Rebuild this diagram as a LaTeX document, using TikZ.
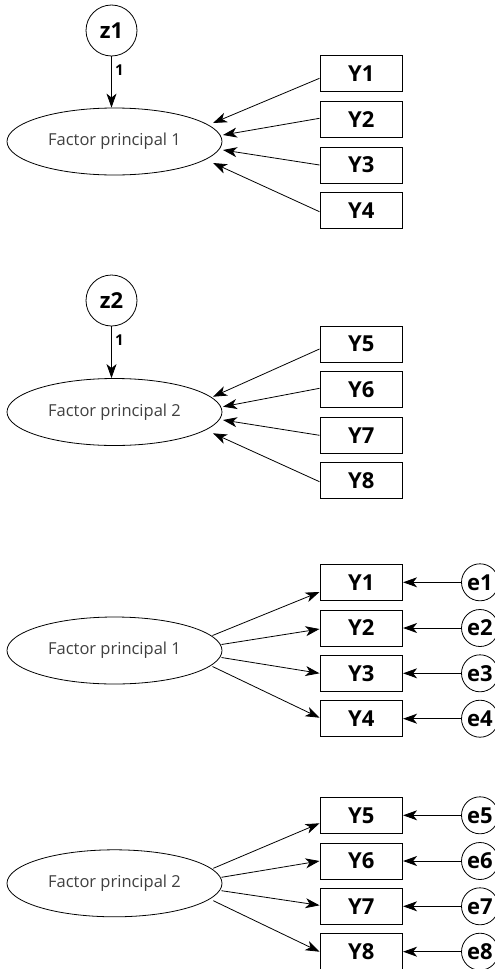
\documentclass[tikz,border=0pt]{standalone}
\usepackage{fontspec}
\setmainfont{Open Sans}
\usetikzlibrary{arrows.meta,calc,shapes.geometric}
\begin{document}
\begin{tikzpicture}[x=1pt,y=-1pt,
  box/.style={draw, line width=0.9pt, minimum width=82.7pt, minimum height=36pt, inner sep=0pt, font=\bfseries\fontsize{22}{22}\selectfont},
  lat/.style={draw, ellipse, line width=0.8pt, minimum width=215pt, minimum height=67pt, inner sep=0pt, font=\fontsize{16.5}{16.5}\selectfont, text=black!75},
  dist/.style={draw, circle, minimum size=51pt, inner sep=0pt, line width=0.8pt, font=\bfseries\fontsize{22}{22}\selectfont},
  err/.style={draw, circle, minimum size=37pt, inner sep=0pt, line width=0.8pt, font=\bfseries\fontsize{22}{22}\selectfont},
  arr/.style={-{Stealth[length=14pt,width=10pt,inset=4pt]}, line width=0.8pt},
  lbl/.style={font=\bfseries\fontsize{15}{15}\selectfont}
]
\useasboundingbox (0,0) rectangle (495,969);

% ---------- Group 1 ----------
\node[dist] (z1) at (111.5,30.5) {z1};
\node[lat] (F1) at (114.5,141.5) {Factor principal 1};
\node[box] (A1) at (361.3,73.7) {Y1};
\node[box] (A2) at (361.3,119.7) {Y2};
\node[box] (A3) at (361.3,165) {Y3};
\node[box] (A4) at (361.3,210.3) {Y4};
\draw[arr] (z1.south) -- (z1.south |- F1.north) node[lbl, pos=0.27, right=0pt] {1};
\draw[arr] ($(A1.west)+(0,4.6)$) -- ($(F1.center)+(98.5,-18.5)$);
\draw[arr] ($(A2.west)+(0,-1.4)$) -- ($(F1.center)+(108.5,-6.5)$);
\draw[arr] (A3.west) -- ($(F1.center)+(108.5,8.5)$);
\draw[arr] ($(A4.west)+(0,1.4)$) -- ($(F1.center)+(98.5,21.5)$);

% ---------- Group 2 ----------
\node[dist] (z2) at (111.5,300.5) {z2};
\node[lat] (F2) at (114.5,412) {Factor principal 2};
\node[box] (B5) at (361.3,344.2) {Y5};
\node[box] (B6) at (361.3,389.7) {Y6};
\node[box] (B7) at (361.3,435.3) {Y7};
\node[box] (B8) at (361.3,480.8) {Y8};
\draw[arr] (z2.south) -- (z2.south |- F2.north) node[lbl, pos=0.27, right=0pt] {1};
\draw[arr] ($(B5.west)+(0,4.8)$) -- ($(F2.center)+(98.5,-15.3)$);
\draw[arr] ($(B6.west)+(0,-1.4)$) -- ($(F2.center)+(108.5,-5.3)$);
\draw[arr] (B7.west) -- ($(F2.center)+(108.5,8)$);
\draw[arr] ($(B8.west)+(0,0.9)$) -- ($(F2.center)+(98.5,21.3)$);

% ---------- Group 3 ----------
\node[lat] (F3) at (114.5,650.5) {Factor principal 1};
\node[box] (C1) at (361.3,582.3) {Y1};
\node[box] (C2) at (361.3,628) {Y2};
\node[box] (C3) at (361.3,673.3) {Y3};
\node[box] (C4) at (361.3,718.7) {Y4};
\node[err] (e1) at (480,582.3) {e1};
\node[err] (e2) at (480,628) {e2};
\node[err] (e3) at (480,673.3) {e3};
\node[err] (e4) at (480,718.7) {e4};
\draw[arr] ($(F3.center)+(98,-15)$) -- ($(C1.west)+(0,9.7)$);
\draw[arr] ($(F3.center)+(107,-6)$) -- ($(C2.west)+(0,1)$);
\draw[arr] ($(F3.center)+(107,7)$) -- (C3.west);
\draw[arr] ($(F3.center)+(98,16)$) -- ($(C4.west)+(0,-1)$);
\foreach \i/\b in {1/C1,2/C2,3/C3,4/C4} \draw[arr] (e\i.west) -- (\b.east);

% ---------- Group 4 ----------
\node[lat] (F4) at (114.5,883.3) {Factor principal 2};
\node[box] (D5) at (361.3,815.3) {Y5};
\node[box] (D6) at (361.3,861) {Y6};
\node[box] (D7) at (361.3,906.3) {Y7};
\node[box] (D8) at (361.3,951.7) {Y8};
\node[err] (e5) at (480,815.3) {e5};
\node[err] (e6) at (480,861) {e6};
\node[err] (e7) at (480,906.3) {e7};
\node[err] (e8) at (480,951.7) {e8};
\draw[arr] ($(F4.center)+(98.8,-15)$) -- ($(D5.west)+(0,8)$);
\draw[arr] ($(F4.center)+(107,-6)$) -- (D6.west);
\draw[arr] ($(F4.center)+(107,7.4)$) -- ($(D7.west)+(0,-1)$);
\draw[arr] ($(F4.center)+(98.8,17.4)$) -- (D8.west);
\foreach \i/\b in {5/D5,6/D6,7/D7,8/D8} \draw[arr] (e\i.west) -- (\b.east);
\end{tikzpicture}
\end{document}
